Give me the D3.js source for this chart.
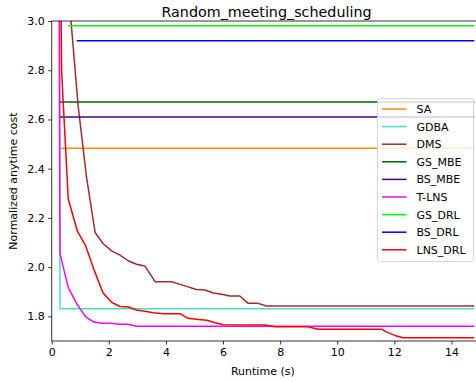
<!DOCTYPE html>
<html>
<head>
<meta charset="utf-8">
<script src="https://cdn.jsdelivr.net/npm/d3@7"></script>
<style>
  body { margin: 0; background: #fff; }
  svg { font-family: "DejaVu Sans", sans-serif; }
</style>
</head>
<body>
<div id="chart"></div>
<script>
// series data (runtime in s, normalized anytime cost)
var names = ['SA', 'GDBA', 'DMS', 'GS_MBE', 'BS_MBE', 'T-LNS', 'GS_DRL', 'BS_DRL', 'LNS_DRL']
var colors = ['#ff8c00', '#40e0d0', '#a52a2a', '#006400', '#4b0082', '#ff00ff', '#00ff00', '#0000ff', '#ff0000']

var saTime = [0.33, 14.8]
var saCost = [2.483, 2.483]
var gdbaTime = [0.28, 0.29, 14.8]
var gdbaCost = [3.5, 1.831, 1.831]
var dmsTime = [0.6, 0.675, 0.93, 1.22, 1.52, 1.81, 2.1, 2.39, 2.68, 2.97, 3.26, 3.62, 4.2, 4.49, 4.78, 5.07, 5.37, 5.66, 5.95, 6.24, 6.59, 6.88, 7.23, 7.52, 14.8]
var dmsCost = [3.4, 3.0, 2.651, 2.365, 2.141, 2.094, 2.066, 2.049, 2.026, 2.012, 2.005, 1.941, 1.941, 1.93, 1.92, 1.909, 1.907, 1.895, 1.89, 1.883, 1.883, 1.853, 1.853, 1.842, 1.842]
var gsMbeTime = [0.29, 14.8]
var gsMbeCost = [2.671, 2.671]
var bsMbeTime = [0.27, 14.8]
var bsMbeCost = [2.61, 2.61]
var tlnsTime = [0.25, 0.29, 0.58, 0.9, 1.19, 1.48, 1.77, 2.07, 2.39, 2.68, 2.97, 14.8]
var tlnsCost = [3.5, 2.055, 1.917, 1.847, 1.798, 1.777, 1.772, 1.772, 1.768, 1.768, 1.76, 1.76]
var gsDrlTime = [0.58, 14.8]
var gsDrlCost = [2.981, 2.981]
var bsDrlTime = [0.875, 14.8]
var bsDrlCost = [2.92, 2.92]
var lnsDrlTime = [0.27, 0.35, 0.58, 0.9, 1.19, 1.48, 1.8, 2.1, 2.39, 2.68, 2.97, 3.26, 3.56, 3.91, 4.49, 4.78, 5.07, 5.43, 5.72, 6.01, 7.47, 7.82, 8.98, 9.33, 11.55, 11.72, 12.08, 12.31, 14.8]
var lnsDrlCost = [3.6, 2.787, 2.277, 2.146, 2.086, 1.99, 1.895, 1.857, 1.84, 1.838, 1.826, 1.821, 1.815, 1.811, 1.811, 1.792, 1.788, 1.784, 1.774, 1.766, 1.765, 1.758, 1.758, 1.748, 1.748, 1.737, 1.72, 1.713, 1.713]

var seriesTime = [saTime, gdbaTime, dmsTime, gsMbeTime, bsMbeTime, tlnsTime, gsDrlTime, bsDrlTime, lnsDrlTime]
var seriesCost = [saCost, gdbaCost, dmsCost, gsMbeCost, bsMbeCost, tlnsCost, gsDrlCost, bsDrlCost, lnsDrlCost]

var xTicks = [0, 2, 4, 6, 8, 10, 12, 14]
var yTicks = [1.8, 2.0, 2.2, 2.4, 2.6, 2.8, 3.0]

var W = 476, H = 382
var mLeft = 51.7, mRight = 478, mTop = 21, mBottom = 341

var svg = d3.select('#chart').append('svg')
            .attr('width', W)
            .attr('height', H)

var x = d3.scaleLinear().domain([0, 14.93]).range([mLeft, mRight])
var y = d3.scaleLinear().domain([1.7, 3.0]).range([mBottom, mTop])

svg.append('defs').append('clipPath')
    .attr('id', 'plot')
  .append('rect')
    .attr('x', mLeft)
    .attr('y', mTop)
    .attr('width', mRight - mLeft)
    .attr('height', mBottom - mTop)

var line = d3.line()
    .x(d => x(d[0]))
    .y(d => y(d[1]))

var g = svg.append('g').attr('clip-path', 'url(#plot)')
names.forEach(function(n, i) {
  var pts = seriesTime[i].map((t, j) => [t, seriesCost[i][j]])
  g.append('path')
    .datum(pts)
    .attr('d', line)
    .style('fill', 'none')
    .style('stroke', colors[i])
    .style('stroke-width', '1.5px')
    .style('stroke-linejoin', 'round')
})

// axes
var xAxis = svg.append('g')
    .attr('transform', 'translate(0,' + mBottom + ')')
    .call(d3.axisBottom(x).tickValues(xTicks).tickSize(3.5).tickPadding(3.5).tickFormat(d3.format('d')))
var yAxis = svg.append('g')
    .attr('transform', 'translate(' + mLeft + ',0)')
    .call(d3.axisLeft(y).tickValues(yTicks).tickSize(3.5).tickPadding(3.5).tickFormat(d3.format('.1f')))

;[xAxis, yAxis].forEach(function(a) {
  a.selectAll('text').style('font-size', '11px').style('fill', '#000').style('font-family', '"DejaVu Sans", sans-serif')
  a.selectAll('line').style('stroke', '#000').style('stroke-width', '0.8px')
  a.select('.domain').style('stroke', '#000').style('stroke-width', '0.8px')
})
xAxis.select('.domain').attr('d', 'M' + mLeft + ',0H' + mRight)
yAxis.select('.domain').attr('d', 'M0,' + mTop + 'V' + mBottom)

svg.append('line')
    .attr('x1', mLeft).attr('x2', mRight)
    .attr('y1', mTop).attr('y2', mTop)
    .style('stroke', '#000')
    .style('stroke-width', '0.8px')

// labels
svg.append('text')
    .attr('x', 266.5)
    .attr('y', 16.5)
    .attr('text-anchor', 'middle')
    .style('font-size', '14.3px')
    .text('Random_meeting_scheduling')
svg.append('text')
    .attr('x', (mLeft + mRight) / 2 - 2)
    .attr('y', 375)
    .attr('text-anchor', 'middle')
    .style('font-size', '11px')
    .text('Runtime (s)')
svg.append('text')
    .attr('transform', 'translate(17,' + ((mTop + mBottom) / 2) + ') rotate(-90)')
    .attr('text-anchor', 'middle')
    .style('font-size', '11px')
    .text('Normalized anytime cost')

// legend
var lg = svg.append('g').attr('transform', 'translate(377.5,98.5)')
lg.append('rect')
    .attr('width', 96)
    .attr('height', 163)
    .attr('rx', 2.5)
    .style('fill', '#fff')
    .style('fill-opacity', 0.8)
    .style('stroke', '#ccc')
    .style('stroke-width', '0.8px')
names.forEach(function(n, i) {
  var yy = 10.5 + i * 17.6
  lg.append('line')
    .attr('x1', 4.5).attr('x2', 29)
    .attr('y1', yy).attr('y2', yy)
    .style('stroke', colors[i])
    .style('stroke-width', '1.5px')
  lg.append('text')
    .attr('x', 39)
    .attr('y', yy + 4)
    .style('font-size', '11px')
    .text(n)
})
</script>
</body>
</html>
